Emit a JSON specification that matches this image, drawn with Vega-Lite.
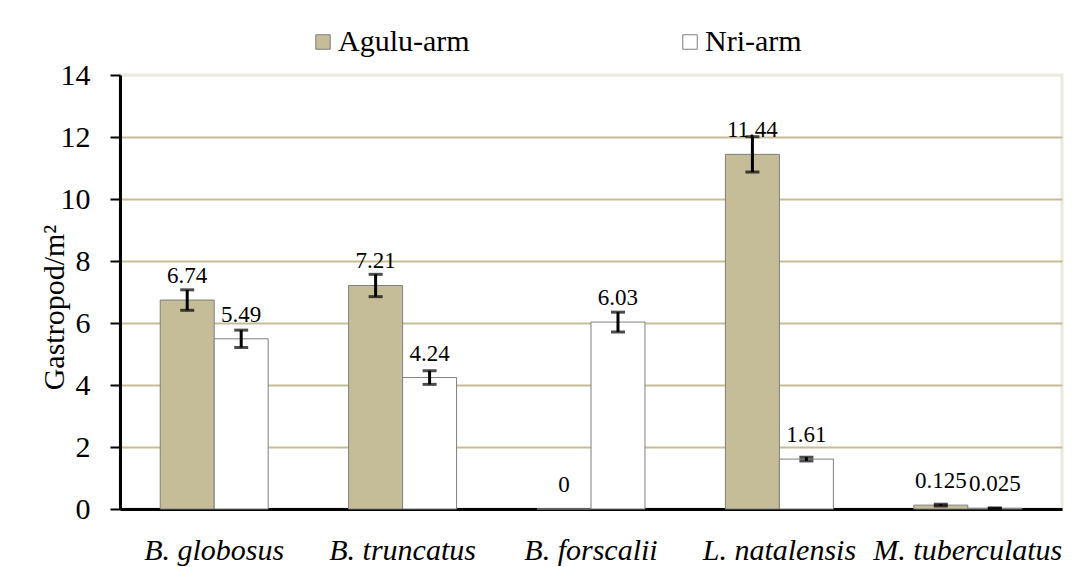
{
  "$schema": "https://vega.github.io/schema/vega-lite/v6.json",
  "width": 942,
  "height": 434,
  "autosize": {"type": "none"},
  "padding": {"left": 120, "top": 75, "right": 12, "bottom": 58},
  "background": "white",
  "config": {
    "font": "Liberation Serif, Times New Roman, serif",
    "view": {"stroke": "#ece9df", "strokeWidth": 3}
  },
  "data": {
    "values": [
      {"species": "B. globosus", "site": "Agulu-arm", "value": 6.74, "err": 0.33},
      {"species": "B. globosus", "site": "Nri-arm", "value": 5.49, "err": 0.28},
      {"species": "B. truncatus", "site": "Agulu-arm", "value": 7.21, "err": 0.36},
      {"species": "B. truncatus", "site": "Nri-arm", "value": 4.24, "err": 0.22},
      {"species": "B. forscalii", "site": "Agulu-arm", "value": 0, "err": 0},
      {"species": "B. forscalii", "site": "Nri-arm", "value": 6.03, "err": 0.32},
      {"species": "L. natalensis", "site": "Agulu-arm", "value": 11.44, "err": 0.57},
      {"species": "L. natalensis", "site": "Nri-arm", "value": 1.61, "err": 0.06},
      {"species": "M. tuberculatus", "site": "Agulu-arm", "value": 0.125, "err": 0.03},
      {"species": "M. tuberculatus", "site": "Nri-arm", "value": 0.025, "err": 0.01}
    ]
  },
  "encoding": {
    "x": {
      "field": "species",
      "type": "nominal",
      "sort": null,
      "title": null,
      "scale": {"paddingInner": 0.427, "paddingOuter": 0.2135},
      "axis": {
        "labelAngle": 0,
        "labelFont": "Liberation Serif, Times New Roman, serif",
        "labelFontSize": 30,
        "labelFontStyle": "italic",
        "labelColor": "black",
        "labelPadding": 26,
        "labelLimit": 400,
        "ticks": false,
        "tickSize": 0,
        "domainColor": "black",
        "domainWidth": 3
      }
    },
    "xOffset": {
      "field": "site",
      "type": "nominal",
      "sort": ["Agulu-arm", "Nri-arm"],
      "scale": {"paddingInner": 0, "paddingOuter": 0}
    }
  },
  "layer": [
    {
      "mark": {"type": "bar", "stroke": "#7f7f7f", "strokeWidth": 1},
      "encoding": {
        "y": {
          "field": "value",
          "type": "quantitative",
          "scale": {"domain": [0, 14], "nice": false},
          "title": "Gastropod/m²",
          "axis": {
            "values": [0, 2, 4, 6, 8, 10, 12, 14],
            "labelFont": "Liberation Serif, Times New Roman, serif",
            "labelFontSize": 30,
            "labelColor": "black",
            "labelPadding": 20,
            "tickSize": 10,
            "tickColor": "black",
            "tickWidth": 2,
            "domainColor": "black",
            "domainWidth": 3,
            "grid": true,
            "gridColor": {"condition": {"test": "datum.value == 14", "value": "#ece9df"}, "value": "#c4bd97"},
            "gridWidth": 2,
            "titleFont": "Liberation Serif, Times New Roman, serif",
            "titleFontSize": 30,
            "titleFontWeight": "normal",
            "titleColor": "black",
            "titleAngle": -90,
            "titleAlign": "center",
            "titleBaseline": "middle",
            "titleX": -66,
            "titleY": 232
          }
        },
        "fill": {
          "field": "site",
          "type": "nominal",
          "scale": {"domain": ["Agulu-arm", "Nri-arm"], "range": ["#c4bd97", "#ffffff"]},
          "legend": {
            "title": null,
            "orient": "none",
            "direction": "horizontal",
            "legendX": 188,
            "legendY": -48,
            "symbolType": "square",
            "symbolSize": 210,
            "symbolStrokeColor": "#7f7f7f",
            "symbolStrokeWidth": 1,
            "symbolOpacity": 1,
            "labelFont": "Liberation Serif, Times New Roman, serif",
            "labelFontSize": 30,
            "labelColor": "black",
            "labelOffset": 0,
            "labelLimit": 400,
            "columnPadding": 205
          }
        }
      }
    },
    {
      "transform": [{"filter": "datum.err > 0"}],
      "mark": {
        "type": "errorbar",
        "color": "black",
        "ticks": {"size": 14, "thickness": 3, "color": "black"},
        "rule": {"strokeWidth": 3, "color": "black"}
      },
      "encoding": {
        "y": {"field": "value", "type": "quantitative", "title": "Gastropod/m²"},
        "yError": {"field": "err"}
      }
    },
    {
      "mark": {"type": "text", "dy": -17, "baseline": "alphabetic", "fontSize": 23, "color": "black", "font": "Liberation Serif, Times New Roman, serif"},
      "encoding": {
        "y": {"field": "value", "type": "quantitative", "title": "Gastropod/m²"},
        "text": {"field": "value", "type": "quantitative", "format": "~g"}
      }
    }
  ]
}
